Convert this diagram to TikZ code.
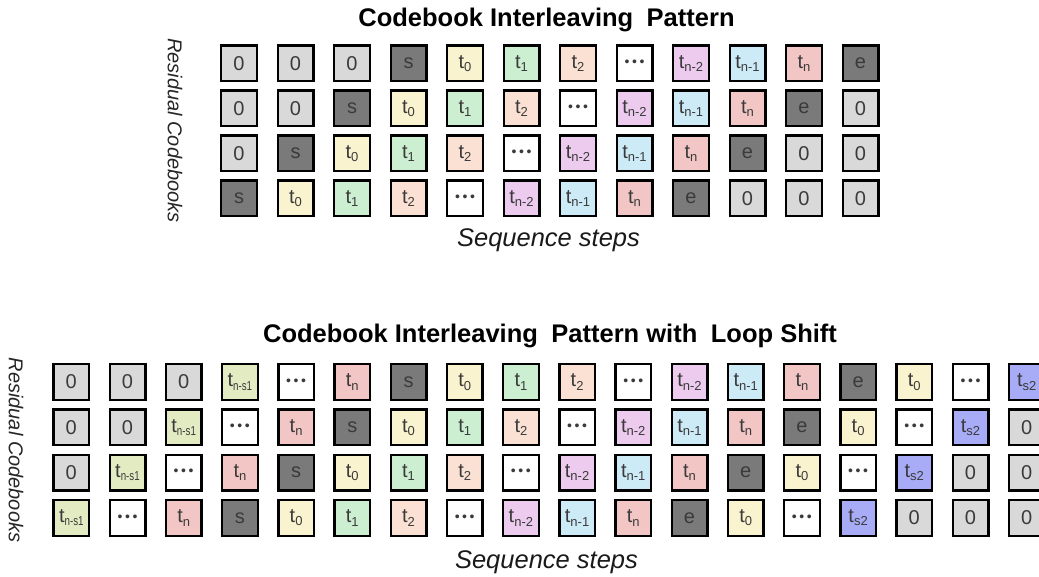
\documentclass[tikz,border=0pt]{standalone}
\usepackage{fontspec}
\setmainfont{Liberation Sans}
\usepackage{graphicx}
\definecolor{czero}{HTML}{D9D9D9}
\definecolor{cse}{HTML}{7A7A7A}
\definecolor{ct0}{HTML}{FAF3CF}
\definecolor{ct1}{HTML}{CBEFD0}
\definecolor{ct2}{HTML}{FBE1D3}
\definecolor{ctm2}{HTML}{EDCBEF}
\definecolor{ctm1}{HTML}{CDEAF7}
\definecolor{ctn}{HTML}{F3C6C6}
\definecolor{ctns}{HTML}{E3EBC2}
\definecolor{cts2}{HTML}{A8ABF6}
\definecolor{txt}{HTML}{3A3A3A}
\newcommand\tk[1]{t\raisebox{-0.32ex}{\fontsize{13}{13}\selectfont #1}}
\newcommand\tdots{{\fontsize{14}{14}\selectfont\raisebox{-0.5pt}{•\hspace{2.6pt}•\hspace{2.6pt}•}}}
\begin{document}
\begin{tikzpicture}[x=1pt,y=-1pt,
  box/.style={draw=black, line width=2.4pt, minimum width=35.6pt, minimum height=35.6pt,
    inner sep=0pt, text=txt, font=\fontsize{20}{20}\selectfont},
  bzero/.style={box, fill=czero},
  bse/.style={box, fill=cse},
  bt0/.style={box, fill=ct0},
  bt1/.style={box, fill=ct1},
  bt2/.style={box, fill=ct2},
  bdot/.style={box, fill=white},
  btm2/.style={box, fill=ctm2},
  btm1/.style={box, fill=ctm1},
  btn/.style={box, fill=ctn},
  btns/.style={box, fill=ctns},
  bts2/.style={box, fill=cts2},
  title/.style={font=\bfseries\fontsize{25.5}{25.5}\selectfont, anchor=base, inner sep=0pt},
  axis/.style={font=\itshape\fontsize{25.5}{25.5}\selectfont, anchor=base, inner sep=0pt, text=black!90},
  side/.style={font=\itshape\fontsize{20}{20}\selectfont, rotate=-90, inner sep=0pt, text=black!85}
]
\useasboundingbox (0,0) rectangle (1039,577);

% ---------- top pattern ----------
\node[title] (title1) at (546.5,27) {Codebook Interleaving\hspace{0.25em} Pattern};
\node[side] (side1) at (175,130.5) {Residual Codebooks};
\node[axis] (axis1) at (548.5,247) {Sequence steps};
\foreach \r in {0,...,3}{
  \foreach \st/\tx [count=\i from 0] in {bzero/0,bzero/0,bzero/0,bse/s,bt0/\tk{0},bt1/\tk{1},bt2/\tk{2},bdot/\tdots,btm2/\tk{n-2},btm1/\tk{n-1},btn/\tk{n},bse/e,bzero/0,bzero/0,bzero/0}{
    \pgfmathtruncatemacro\c{\i-\r}
    \ifnum\c<0\relax\else\ifnum\c>11\relax\else
      \node[\st] (top-\r-\c) at ({239+56.5*\c},{63.5+45*\r}) {\tx};
    \fi\fi
  }
}

% ---------- bottom pattern ----------
\node[title] (title2) at (550,343) {Codebook Interleaving\hspace{0.25em} Pattern with\hspace{0.25em} Loop Shift};
\node[side] (side2) at (16,450) {Residual Codebooks};
\node[axis] (axis2) at (546.5,568) {Sequence steps};
\foreach \r in {0,...,3}{
  \foreach \st/\tx [count=\i from 0] in {bzero/0,bzero/0,bzero/0,btns/\tk{\scalebox{0.75}[1]{n-s1}},bdot/\tdots,btn/\tk{n},bse/s,bt0/\tk{0},bt1/\tk{1},bt2/\tk{2},bdot/\tdots,btm2/\tk{n-2},btm1/\tk{n-1},btn/\tk{n},bse/e,bt0/\tk{0},bdot/\tdots,bts2/\tk{s2},bzero/0,bzero/0,bzero/0}{
    \pgfmathtruncatemacro\c{\i-\r}
    \ifnum\c<0\relax\else\ifnum\c>17\relax\else
      \node[\st] (bot-\r-\c) at ({71.3+56.2*\c},{382+45.3*\r}) {\tx};
    \fi\fi
  }
}
\end{tikzpicture}
\end{document}
